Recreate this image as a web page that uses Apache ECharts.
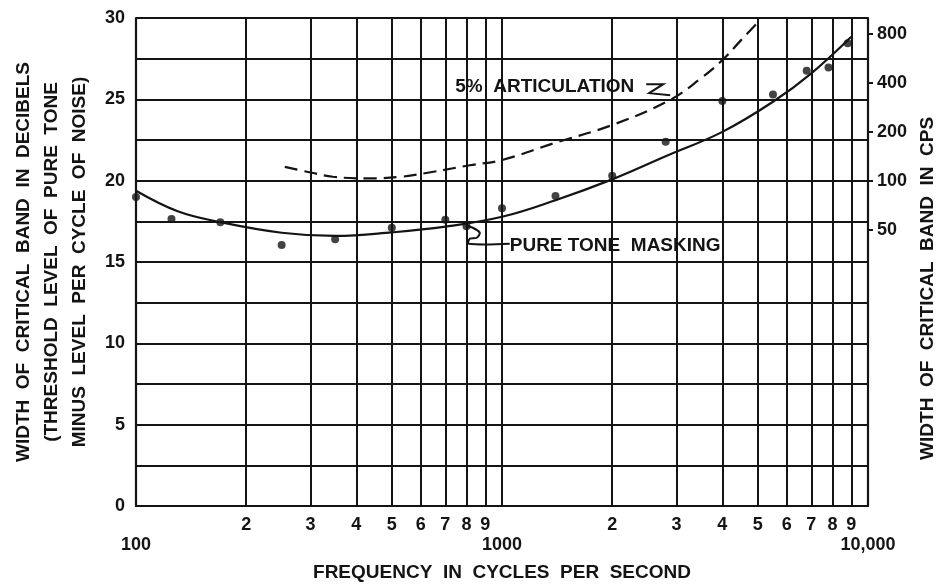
<!DOCTYPE html>
<html>
<head>
<meta charset="utf-8">
<script src="https://cdn.jsdelivr.net/npm/echarts@6/dist/echarts.min.js"></script>
<style>
html,body{margin:0;padding:0;background:#fff;}
#chart{width:938px;height:586px;}
</style>
</head>
<body>
<div id="chart"></div>
<script>
// ---- Data ----
const xTickValues = [100,200,300,400,500,600,700,800,900,1000,2000,3000,4000,5000,6000,7000,8000,9000,10000];
const xDigitLabels = ['','2','3','4','5','6','7','8','9','','2','3','4','5','6','7','8','9',''];
const xDecadeValues = [100,1000,10000];
const xDecadeLabels = ['100','1000','10,000'];
const rightTickValues = [50,100,200,400,800];

// Pure tone masking: measured points (frequency in cps, width in dB)
const maskPointFreq = [100,125,170,250,350,500,700,800,1000,1400,2000,2800,4000,5500,6800,7800,8800];
const maskPointDb   = [19.0,17.65,17.45,16.05,16.4,17.1,17.6,17.2,18.3,19.05,20.3,22.4,24.9,25.3,26.75,26.95,28.45];

// Pure tone masking: fitted solid curve
const maskCurveFreq = [100,130,170,250,350,500,700,1000,1400,2000,2800,4000,5500,7000,9000];
const maskCurveDb   = [19.38,18.12,17.45,16.8,16.6,16.82,17.17,17.78,18.8,20.08,21.5,23.0,24.85,26.6,28.85];

// 5% articulation: dashed curve
const artCurveFreq = [255,300,345,430,530,650,817,1000,1380,2000,2870,3500,4000,4500,5080];
const artCurveDb   = [20.85,20.5,20.24,20.14,20.24,20.55,20.95,21.27,22.29,23.42,24.95,26.3,27.41,28.64,29.9];

const FONT = 'Liberation Sans';
const INK = '#141414';

const pair = (xs, ys) => xs.map((x, i) => [x, ys[i]]);
const lookup = (vals, labs) => function (v) {
  for (let i = 0; i < vals.length; i++) {
    if (Math.abs(vals[i] - v) / vals[i] < 1e-6) return labs[i];
  }
  return '';
};

const chart = echarts.init(document.getElementById('chart'), null, {renderer: 'canvas'});

const labelFont = {fontFamily: FONT, fontWeight: 'bold', fontSize: 18, color: INK};

const option = {
  backgroundColor: '#ffffff',
  animation: false,
  textStyle: {fontFamily: FONT, color: INK},
  grid: {left: 136, right: 70, top: 18, bottom: 80, containLabel: false, outerBoundsMode: 'none'},
  xAxis: [
    {
      type: 'log',
      logBase: 10,
      min: 100,
      max: 10000,
      position: 'bottom',
      axisLine: {show: true, lineStyle: {color: INK, width: 2.2}},
      axisTick: {show: false, customValues: xTickValues},
      axisLabel: Object.assign({
        customValues: xTickValues,
        showMinLabel: true,
        showMaxLabel: true,
        hideOverlap: false,
        margin: 10,
        formatter: lookup(xTickValues, xDigitLabels)
      }, labelFont),
      splitLine: {show: true, lineStyle: {color: INK, width: 2}},
      name: 'FREQUENCY  IN  CYCLES  PER  SECOND',
      nameLocation: 'middle',
      nameGap: 57,
      nameTextStyle: {fontFamily: FONT, fontWeight: 'bold', fontSize: 19, color: INK}
    },
    {
      type: 'log',
      logBase: 10,
      min: 100,
      max: 10000,
      position: 'bottom',
      axisLine: {show: false},
      axisTick: {show: false, customValues: xDecadeValues},
      axisLabel: Object.assign({
        customValues: xDecadeValues,
        showMinLabel: true,
        showMaxLabel: true,
        hideOverlap: false,
        margin: 30,
        formatter: lookup(xDecadeValues, xDecadeLabels)
      }, labelFont),
      splitLine: {show: false}
    }
  ],
  yAxis: [
    {
      type: 'value',
      position: 'left',
      min: 0, max: 30, interval: 2.5,
      axisLine: {show: true, lineStyle: {color: INK, width: 2.2}},
      axisTick: {show: false},
      axisLabel: Object.assign({
        margin: 11,
        showMinLabel: true, showMaxLabel: true,
        formatter: v => (Math.abs(v % 5) < 1e-9 ? String(v) : '')
      }, labelFont),
      splitLine: {show: true, lineStyle: {color: INK, width: 2}},
      name: 'WIDTH  OF  CRITICAL  BAND  IN  DECIBELS\n(THRESHOLD  LEVEL  OF  PURE  TONE\nMINUS  LEVEL  PER  CYCLE  OF  NOISE)',
      nameLocation: 'middle',
      nameRotate: 90,
      nameGap: 38,
      nameTextStyle: {fontFamily: FONT, fontWeight: 'bold', fontSize: 19, color: INK, lineHeight: 28}
    },
    {
      type: 'log',
      logBase: 10,
      position: 'right',
      min: 1, max: 1000,
      axisLine: {show: true, lineStyle: {color: INK, width: 2.2}},
      axisTick: {show: true, customValues: rightTickValues, length: 5, lineStyle: {color: INK, width: 2}},
      axisLabel: Object.assign({
        customValues: rightTickValues,
        showMinLabel: true, showMaxLabel: true,
        margin: 9
      }, labelFont),
      splitLine: {show: false},
      name: 'WIDTH  OF  CRITICAL  BAND  IN  CPS          ',
      nameLocation: 'middle',
      nameRotate: 90,
      nameGap: 50,
      nameTextStyle: {fontFamily: FONT, fontWeight: 'bold', fontSize: 19, color: INK}
    }
  ],
  series: [
    {
      name: '5% articulation',
      type: 'line',
      xAxisIndex: 0, yAxisIndex: 0,
      data: pair(artCurveFreq, artCurveDb),
      smooth: 0.4,
      showSymbol: false,
      lineStyle: {color: INK, width: 2.2, type: [13, 7]},
      z: 3
    },
    {
      name: 'Pure tone masking curve',
      type: 'line',
      xAxisIndex: 0, yAxisIndex: 0,
      data: pair(maskCurveFreq, maskCurveDb),
      smooth: 0.4,
      showSymbol: false,
      lineStyle: {color: INK, width: 2.2},
      z: 3
    },
    {
      name: 'Pure tone masking',
      type: 'scatter',
      xAxisIndex: 0, yAxisIndex: 0,
      data: pair(maskPointFreq, maskPointDb),
      symbol: 'circle',
      symbolSize: 8,
      itemStyle: {color: INK},
      z: 4
    }
  ]
};

chart.setOption(option);

// ---- Annotations anchored in data space ----
const artLabelAnchor = [745, 25.75];
const maskLabelAnchor = [1050, 16.0];
const pA = chart.convertToPixel({xAxisIndex: 0, yAxisIndex: 0}, artLabelAnchor);
const pM = chart.convertToPixel({xAxisIndex: 0, yAxisIndex: 0}, maskLabelAnchor);

const artLeader = [[191, -3], [208, -3], [194, 6], [215, 8]];
const maskLeader = [[-44, -20], [-37, -18], [-30, -13], [-33, -8], [-40, -7], [-41, -2], [0, -2]];

chart.setOption({
  graphic: [
    {
      type: 'text', x: pA[0], y: pA[1], z: 10,
      style: {text: '5%  ARTICULATION', fontFamily: FONT, fontWeight: 'bold', fontSize: 19,
              fill: INK, align: 'left', verticalAlign: 'middle'}
    },
    {
      type: 'polyline', z: 10,
      shape: {points: artLeader.map(p => [pA[0] + p[0], pA[1] + p[1]])},
      style: {stroke: INK, lineWidth: 2, fill: null}
    },
    {
      type: 'text', x: pM[0], y: pM[1], z: 10,
      style: {text: 'PURE TONE  MASKING', fontFamily: FONT, fontWeight: 'bold', fontSize: 19,
              fill: INK, align: 'left', verticalAlign: 'middle'}
    },
    {
      type: 'polyline', z: 10,
      shape: {points: maskLeader.map(p => [pM[0] + p[0], pM[1] + p[1]]), smooth: 0.3},
      style: {stroke: INK, lineWidth: 2, fill: null}
    }
  ]
});
</script>
</body>
</html>
